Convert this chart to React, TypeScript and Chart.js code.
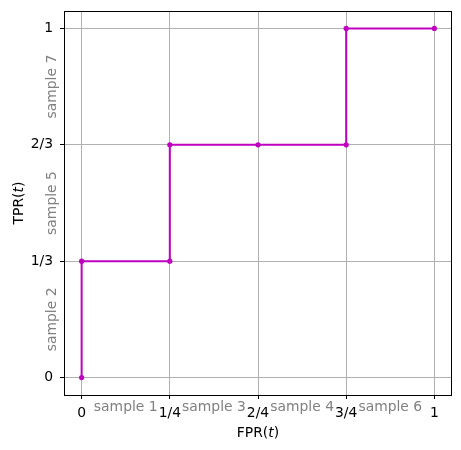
import React, { useEffect, useRef } from "react";
import { Chart, registerables } from "chart.js";

Chart.register(...registerables);

const fprValues = [0, 0, 1 / 4, 1 / 4, 2 / 4, 3 / 4, 3 / 4, 1];
const tprValues = [0, 1 / 3, 1 / 3, 2 / 3, 2 / 3, 2 / 3, 1, 1];
const xTickValues = [0, 0.25, 0.5, 0.75, 1];
const xTickLabels = ["0", "1/4", "2/4", "3/4", "1"];
const yTickValues = [0, 1 / 3, 2 / 3, 1];
const yTickLabels = ["0", "1/3", "2/3", "1"];
const xSampleLabels = ["sample 1", "sample 3", "sample 4", "sample 6"];
const ySampleLabels = ["sample 2", "sample 5", "sample 7"];

const FONT = "'DejaVu Sans', sans-serif";
const FS = 13.9;
const LINE_COLOR = "#bf00bf";
const GRID_COLOR = "#b0b0b0";
const SAMPLE_COLOR = "#808080";

function drawMixed(ctx: CanvasRenderingContext2D, parts: [string, boolean][], cx: number, baseline: number) {
  const fontFor = (it: boolean) => `${it ? "italic " : ""}${FS}px ${FONT}`;
  let total = 0;
  for (const [t, it] of parts) {
    ctx.font = fontFor(it);
    total += ctx.measureText(t).width;
  }
  let x = cx - total / 2;
  ctx.textAlign = "left";
  ctx.textBaseline = "alphabetic";
  for (const [t, it] of parts) {
    ctx.font = fontFor(it);
    ctx.fillText(t, x, baseline);
    x += ctx.measureText(t).width;
  }
}

const decorPlugin = {
  id: "decor",
  afterDraw(chart: any) {
    const ctx: CanvasRenderingContext2D = chart.ctx;
    const { left, right, top, bottom } = chart.chartArea;
    const xs = chart.scales.x;
    const ys = chart.scales.y;
    ctx.save();
    // frame
    ctx.strokeStyle = "#000";
    ctx.lineWidth = 1;
    ctx.strokeRect(Math.round(left) + 0.5, Math.round(top) + 0.5, Math.round(right) - Math.round(left) - 1, Math.round(bottom) - Math.round(top));
    // sample labels along x
    ctx.fillStyle = SAMPLE_COLOR;
    ctx.font = `${FS}px ${FONT}`;
    ctx.textAlign = "center";
    ctx.textBaseline = "alphabetic";
    xSampleLabels.forEach((lab, i) => {
      const mid = (xTickValues[i] + xTickValues[i + 1]) / 2;
      ctx.fillText(lab, xs.getPixelForValue(mid), 410.5);
    });
    // sample labels along y
    ySampleLabels.forEach((lab, i) => {
      const mid = (yTickValues[i] + yTickValues[i + 1]) / 2;
      ctx.save();
      ctx.translate(56, ys.getPixelForValue(mid));
      ctx.rotate(-Math.PI / 2);
      ctx.textAlign = "center";
      ctx.textBaseline = "alphabetic";
      ctx.fillText(lab, 0, 0);
      ctx.restore();
    });
    // axis titles
    ctx.fillStyle = "#000";
    drawMixed(ctx, [["FPR(", false], ["t", true], [")", false]], (left + right) / 2, 437.3);
    ctx.save();
    ctx.translate(23.3, (top + bottom) / 2);
    ctx.rotate(-Math.PI / 2);
    drawMixed(ctx, [["TPR(", false], ["t", true], [")", false]], 0, 0);
    ctx.restore();
    ctx.restore();
  },
};

export default function App() {
  const ref = useRef<HTMLCanvasElement | null>(null);
  useEffect(() => {
    if (!ref.current) return;
    const chart = new Chart(ref.current, {
      type: "scatter",
      data: {
        datasets: [
          {
            data: fprValues.map((x, i) => ({ x, y: tprValues[i] })),
            showLine: true,
            borderColor: LINE_COLOR,
            backgroundColor: LINE_COLOR,
            borderWidth: 2,
            pointRadius: 2.6,
            pointBorderWidth: 0,
            pointHoverRadius: 2.6,
            tension: 0,
          },
        ],
      },
      options: {
        animation: false,
        responsive: false,
        devicePixelRatio: 1,
        events: [],
        layout: { padding: { left: 0, top: 11, right: 9, bottom: 0 } },
        plugins: { legend: { display: false }, tooltip: { enabled: false } },
        scales: {
          x: {
            type: "linear",
            min: -0.05,
            max: 1.05,
            afterBuildTicks: (scale: any) => {
              scale.ticks = xTickValues.map((v) => ({ value: v }));
            },
            afterFit: (scale: any) => {
              scale.height = 55;
              scale.paddingLeft = 0;
              scale.paddingRight = 0;
            },
            ticks: {
              callback: (_v: any, i: number) => xTickLabels[i],
              color: "#000",
              font: { family: FONT, size: FS },
              padding: 6,
              maxRotation: 0,
              autoSkip: false,
            },
            grid: { color: GRID_COLOR, lineWidth: 1, tickColor: "#000", tickLength: 4, drawTicks: true },
            border: { display: false },
          },
          y: {
            type: "linear",
            min: -0.05,
            max: 1.05,
            afterBuildTicks: (scale: any) => {
              scale.ticks = yTickValues.map((v) => ({ value: v }));
            },
            afterFit: (scale: any) => {
              scale.width = 64;
              scale.paddingTop = 0;
              scale.paddingBottom = 0;
            },
            ticks: {
              callback: (_v: any, i: number) => yTickLabels[i],
              color: "#000",
              font: { family: FONT, size: FS },
              padding: 7,
              autoSkip: false,
            },
            grid: { color: GRID_COLOR, lineWidth: 1, tickColor: "#000", tickLength: 4, drawTicks: true },
            border: { display: false },
          },
        },
      },
      plugins: [decorPlugin],
    });
    return () => chart.destroy();
  }, []);
  return (
    <div style={{ position: "fixed", left: 0, top: 0, width: 461, height: 450, background: "#fff" }}>
      <canvas ref={ref} width={461} height={450} />
    </div>
  );
}
